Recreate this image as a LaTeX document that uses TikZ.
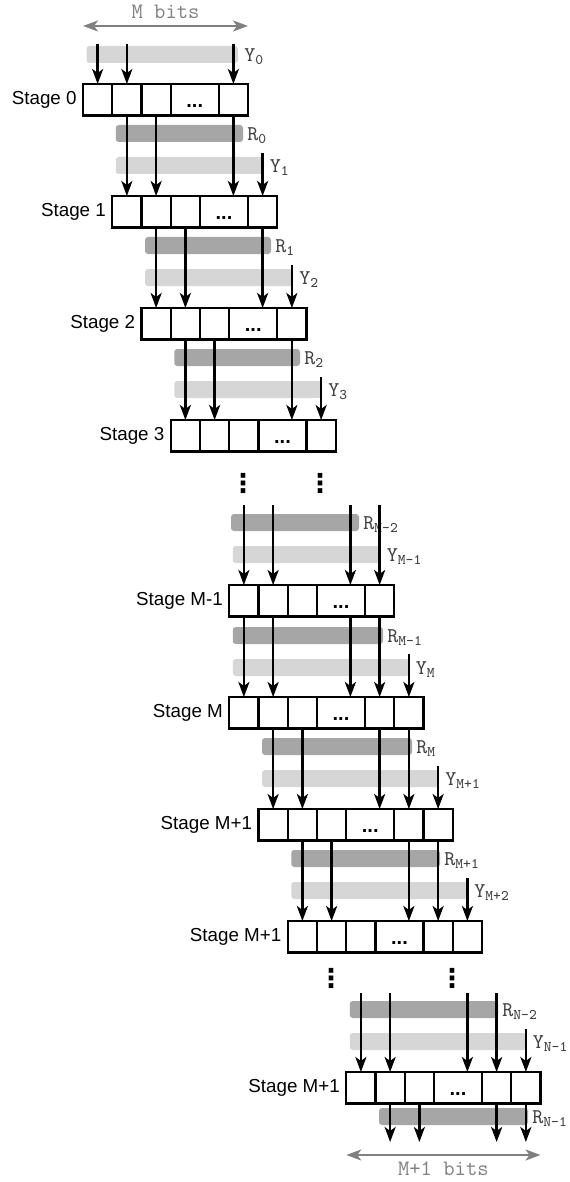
\documentclass[tikz,border=0pt]{standalone}
\usepackage{fontspec}
\setmainfont{Liberation Sans}
\newfontfamily\symfont{DejaVu Sans}
\usepackage{tikz}
\usetikzlibrary{positioning,arrows.meta}
\definecolor{rbarcol}{gray}{0.65}
\definecolor{ybarcol}{gray}{0.84}
\definecolor{labelcol}{gray}{0.25}
\definecolor{spancol}{gray}{0.5}
% one stage: name, left, top, number of cells, label
\newcommand{\stage}[5]{%
  \node[cell, anchor=north west] (#1-1) at (#2,#3) {};
  \node[cell, right=0pt of #1-1] (#1-2) {};
  \node[cell, right=0pt of #1-2] (#1-3) {};
  \node[cell, wide, right=0pt of #1-3] (#1-4) {...};
  \node[cell, right=0pt of #1-4] (#1-5) {};
  \ifnum#4>5 \node[cell, right=0pt of #1-5] (#1-6) {};\fi
  \node[stagelbl, left=3pt of #1-1] (#1-lbl) {#5};}
% register bars: name, x1, x2, top, text
\newcommand{\rbar}[5]{%
  \fill[rbarcol, rounded corners=1.5pt] (#2,#4) rectangle (#3,#4+17);
  \node[reg] (#1) at (#3+4,#4+15.5) {#5};}
\newcommand{\ybar}[5]{%
  \fill[ybarcol, rounded corners=1.5pt] (#2,#4) rectangle (#3,#4+17);
  \node[reg] (#1) at (#3+6,#4+15.5) {#5};}

\begin{document}
\begin{tikzpicture}[x=0.5pt, y=-0.5pt, >={Stealth[length=7.5pt,width=5.5pt,inset=2pt]},
  cell/.style={draw, line width=1.2pt, fill=white, inner sep=0pt, outer sep=0pt,
    minimum width=14.625pt, minimum height=15.75pt},
  wide/.style={minimum width=24pt, font=\fontsize{10}{12}\selectfont\bfseries,
    text height=1.5ex, text depth=0pt},
  stagelbl/.style={inner sep=0pt, font=\fontsize{9.4}{11}\selectfont},
  bit/.style={->, line width=1.3pt},
  span/.style={<->, draw=spancol, line width=1.1pt},
  spanlbl/.style={inner sep=0pt, text=spancol, font=\fontsize{11}{13}\selectfont\ttfamily},
  reg/.style={anchor=base west, inner sep=0pt, text=labelcol,
    font=\fontsize{10.5}{12}\selectfont\ttfamily},
  vdot/.style={anchor=base, inner sep=0pt, font=\fontsize{13}{13}\selectfont\symfont\bfseries}]
\useasboundingbox (0,0) rectangle (569,1182);
% bars
\ybar{y0}{86.5}{238}{46}{Y\textsubscript{0}}
\rbar{r0}{115.75}{243}{125}{R\textsubscript{0}}
\ybar{y1}{115.75}{263.5}{157}{Y\textsubscript{1}}
\rbar{r1}{145}{271}{237}{R\textsubscript{1}}
\ybar{y2}{145}{293}{269}{Y\textsubscript{2}}
\rbar{r2}{174.25}{300}{349}{R\textsubscript{2}}
\ybar{y3}{174.25}{322}{381}{Y\textsubscript{3}}
\rbar{ra}{231}{359}{514}{R\textsubscript{M-2}}
\ybar{ya}{232.75}{380.5}{546}{Y\textsubscript{M-1}}
\rbar{rb}{232.75}{383}{627}{R\textsubscript{M-1}}
\ybar{yb}{232.75}{409.5}{659}{Y\textsubscript{M}}
\rbar{rc}{262}{412}{738}{R\textsubscript{M}}
\ybar{yc}{262}{439}{770}{Y\textsubscript{M+1}}
\rbar{rd}{291.25}{440}{850}{R\textsubscript{M+1}}
\ybar{yd}{291.25}{468}{882}{Y\textsubscript{M+2}}
\rbar{re}{349.75}{498}{1001}{R\textsubscript{N-2}}
\ybar{ye}{349.75}{526.5}{1033}{Y\textsubscript{N-1}}
\rbar{rf}{379}{528}{1108}{R\textsubscript{N-1}}
% stages
\stage{s0}{83}{84}{5}{Stage 0}
\stage{s1}{112.25}{196}{5}{Stage 1}
\stage{s2}{141.5}{308}{5}{Stage 2}
\stage{s3}{170.75}{420}{5}{Stage 3}
\stage{sa}{229.25}{585}{5}{Stage M-1}
\stage{sb}{229.25}{697}{6}{Stage M}
\stage{sc}{258.5}{809}{6}{Stage M+1}
\stage{sd}{287.75}{921}{6}{Stage M+1}
\stage{se}{346.25}{1072}{6}{Stage M+1}
\node[vdot] (dots1) at (243,492) {⋮};
\node[vdot] (dots2) at (320,492) {⋮};
\node[vdot] (dots3) at (331,987) {⋮};
\node[vdot] (dots4) at (452,987) {⋮};
% bit lines
\foreach \c in {1,2,5} \draw[bit] ([yshift=20pt]s0-\c.north) -- (s0-\c.north);
\foreach \a/\b in {s0/s1, s1/s2, s2/s3} {
  \foreach \c in {2,3,5} \draw[bit] (\a-\c.south) -- (\a-\c.south |- \b-1.north);
  \draw[bit] ([yshift=21.5pt]\b-5.north) -- (\b-5.north);
}
\foreach \c in {1,2,5} \draw[bit] ([yshift=40pt]sa-\c.north) -- (sa-\c.north);
\draw[bit] ([xshift=-14.625pt, yshift=40pt]sa-5.north) -- ([xshift=-14.625pt]sa-5.north);
\foreach \c in {1,2,5} \draw[bit] (sa-\c.south) -- (sa-\c.south |- sb-1.north);
\draw[bit] ([xshift=-14.625pt]sa-5.south) -- ([xshift=-14.625pt]sb-5.north);
\draw[bit] ([yshift=21.5pt]sb-6.north) -- (sb-6.north);
\foreach \a/\b in {sb/sc, sc/sd} {
  \foreach \c in {2,3,5,6} \draw[bit] (\a-\c.south) -- (\a-\c.south |- \b-1.north);
  \draw[bit] ([yshift=21.5pt]\b-6.north) -- (\b-6.north);
}
\foreach \c in {1,2,5} \draw[bit] ([yshift=39.5pt]se-\c.north) -- (se-\c.north);
\draw[bit] ([xshift=-14.625pt, yshift=39.5pt]se-5.north) -- ([xshift=-14.625pt]se-5.north);
\draw[bit] ([yshift=21.5pt]se-6.north) -- (se-6.north);
\foreach \c in {2,3,5,6} \draw[bit] (se-\c.south) -- ([yshift=-19.25pt]se-\c.south);
% widths
\draw[span] (s0-1.west |- 0,26) -- node[spanlbl, above=3pt] (mbits) {M bits} (s0-5.east |- 0,26);
\draw[span] (se-1.west |- 0,1155) -- node[spanlbl, below=3pt] (m1bits) {M+1 bits} (se-6.east |- 0,1155);
\end{tikzpicture}
\end{document}
